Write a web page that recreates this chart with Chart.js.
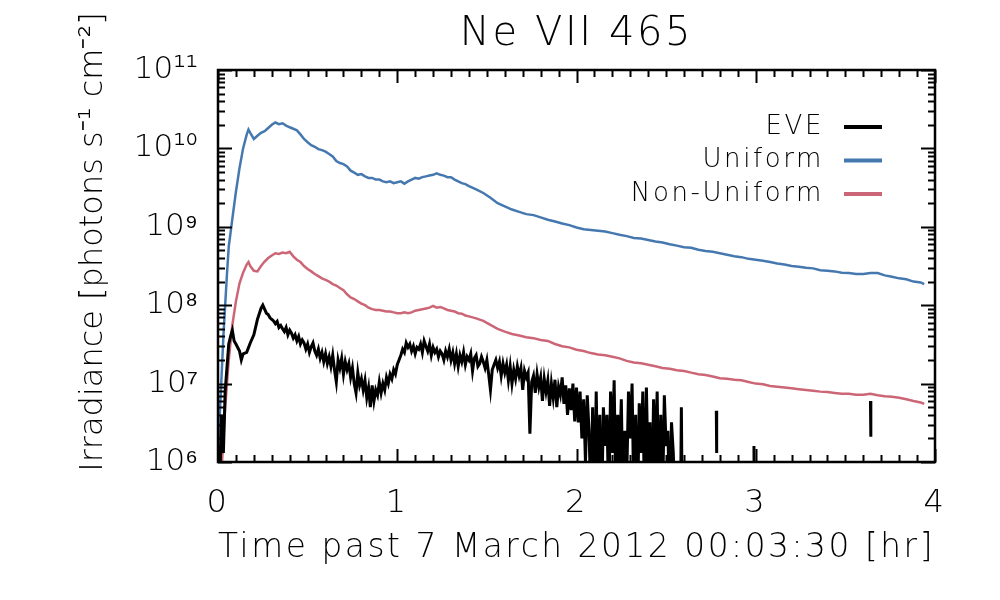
<!DOCTYPE html>
<html>
<head>
<meta charset="utf-8">
<script src="https://cdn.jsdelivr.net/npm/chart.js@4.4.1/dist/chart.umd.min.js"></script>
<style>
  html, body { margin: 0; padding: 0; background: #fff; }
  #wrap { width: 1000px; height: 600px; }
</style>
</head>
<body>
<div id="wrap"><canvas id="irrChart" width="1000" height="600"></canvas></div>
<script>
// time axis [hr] of the two model curves
const modelTime = [
  0, 0.01, 0.02, 0.03, 0.04, 0.05, 0.06, 0.08, 0.10,
  0.12, 0.14, 0.16, 0.17, 0.18, 0.20, 0.22, 0.24, 0.26, 0.28, 0.30,
  0.32, 0.34, 0.36, 0.38, 0.40, 0.42, 0.44, 0.46, 0.48, 0.50,
  0.52, 0.54, 0.56, 0.58, 0.60, 0.62, 0.64, 0.66, 0.68, 0.70,
  0.72, 0.74, 0.76, 0.78, 0.80, 0.82, 0.84, 0.86, 0.88, 0.90,
  0.92, 0.94, 0.96, 0.98, 1.00, 1.02, 1.04, 1.06, 1.08, 1.10,
  1.12, 1.14, 1.16, 1.18, 1.20, 1.22, 1.24, 1.26, 1.28, 1.30,
  1.32, 1.34, 1.36, 1.38, 1.40,
  1.44, 1.48, 1.52, 1.56, 1.60, 1.64, 1.68, 1.72, 1.76, 1.80,
  1.84, 1.88, 1.92, 1.96, 2.00, 2.04, 2.08, 2.12, 2.16, 2.20,
  2.24, 2.28, 2.32, 2.36, 2.40, 2.44, 2.48, 2.52, 2.56, 2.60,
  2.64, 2.68, 2.72, 2.76, 2.80, 2.84, 2.88, 2.92, 2.96, 3.00,
  3.04, 3.08, 3.12, 3.16, 3.20, 3.24, 3.28, 3.32, 3.36, 3.40,
  3.44, 3.48, 3.52, 3.56, 3.60, 3.64, 3.68, 3.72, 3.76, 3.80,
  3.84, 3.88, 3.92, 3.94,
];

// Uniform model [photons s^-1 cm^-2]
const uniformValues = [
  7.9e5, 4.0e6, 1.26e7, 4.0e7, 1.0e8, 2.5e8, 5.6e8, 1.26e9, 2.8e9,
  5.6e9, 1.0e10, 1.5e10, 1.74e10, 1.58e10, 1.32e10, 1.45e10, 1.58e10, 1.66e10, 1.82e10, 2.0e10,
  2.14e10, 2.04e10, 2.09e10, 1.95e10, 1.86e10, 1.78e10, 1.7e10, 1.51e10, 1.32e10, 1.2e10,
  1.1e10, 1.05e10, 9.8e9, 9.5e9, 9.1e9, 8.5e9, 7.9e9, 6.9e9, 6.5e9, 6.3e9,
  5.9e9, 5.2e9, 4.9e9, 4.6e9, 4.7e9, 4.4e9, 4.2e9, 4.2e9, 4.0e9, 4.0e9,
  3.8e9, 3.7e9, 3.8e9, 3.6e9, 3.7e9, 3.8e9, 3.55e9, 3.8e9, 4.0e9, 4.2e9,
  4.1e9, 4.3e9, 4.4e9, 4.5e9, 4.6e9, 4.8e9, 4.6e9, 4.5e9, 4.3e9, 4.3e9,
  4.0e9, 3.8e9, 3.6e9, 3.5e9, 3.3e9,
  3.0e9, 2.7e9, 2.35e9, 2.0e9, 1.82e9, 1.66e9, 1.55e9, 1.45e9, 1.41e9, 1.32e9,
  1.23e9, 1.17e9, 1.1e9, 1.05e9, 9.8e8, 9.3e8, 9.1e8, 8.9e8, 8.7e8, 8.3e8,
  7.9e8, 7.6e8, 7.2e8, 7.1e8, 6.8e8, 6.5e8, 6.3e8, 6.0e8, 5.75e8, 5.5e8,
  5.4e8, 5.1e8, 4.9e8, 4.8e8, 4.6e8, 4.4e8, 4.2e8, 4.1e8, 3.9e8, 3.8e8,
  3.7e8, 3.55e8, 3.4e8, 3.3e8, 3.16e8, 3.1e8, 3.0e8, 2.95e8, 2.8e8, 2.75e8,
  2.7e8, 2.6e8, 2.57e8, 2.5e8, 2.5e8, 2.57e8, 2.57e8, 2.4e8, 2.3e8, 2.2e8,
  2.14e8, 2.0e8, 1.95e8, 1.86e8,
];

// Non-Uniform model
const nonUniformValues = [
  3.2e5, 4.0e5, 7.9e5, 2.0e6, 5.0e6, 1.0e7, 2.0e7, 5.6e7, 1.12e8,
  1.9e8, 2.6e8, 3.3e8, 3.55e8, 3.16e8, 2.75e8, 2.7e8, 3.16e8, 3.6e8, 4.0e8, 4.3e8,
  4.6e8, 4.5e8, 4.7e8, 4.6e8, 4.8e8, 4.2e8, 3.8e8, 3.55e8, 3.16e8, 2.9e8,
  2.7e8, 2.5e8, 2.35e8, 2.2e8, 2.1e8, 2.0e8, 1.86e8, 1.78e8, 1.66e8, 1.55e8,
  1.38e8, 1.26e8, 1.2e8, 1.12e8, 1.05e8, 1.0e8, 9.3e7, 8.9e7, 8.7e7, 8.7e7,
  8.5e7, 8.3e7, 8.3e7, 8.1e7, 7.9e7, 7.9e7, 8.1e7, 7.9e7, 8.1e7, 8.5e7,
  8.7e7, 8.9e7, 9.1e7, 9.3e7, 9.8e7, 9.3e7, 9.5e7, 9.1e7, 8.7e7, 8.5e7,
  8.3e7, 7.9e7, 7.8e7, 7.4e7, 7.2e7,
  6.8e7, 6.3e7, 5.6e7, 5.0e7, 4.6e7, 4.3e7, 4.1e7, 3.9e7, 3.8e7, 3.6e7,
  3.5e7, 3.2e7, 3.0e7, 2.9e7, 2.7e7, 2.6e7, 2.45e7, 2.35e7, 2.3e7, 2.2e7,
  2.1e7, 1.95e7, 1.86e7, 1.82e7, 1.74e7, 1.66e7, 1.58e7, 1.55e7, 1.48e7, 1.45e7,
  1.38e7, 1.32e7, 1.29e7, 1.23e7, 1.17e7, 1.15e7, 1.12e7, 1.1e7, 1.05e7, 1.0e7,
  9.8e6, 9.3e6, 9.1e6, 8.9e6, 8.7e6, 8.5e6, 8.3e6, 8.1e6, 7.9e6, 7.8e6,
  7.6e6, 7.4e6, 7.4e6, 7.2e6, 7.2e6, 7.4e6, 7.1e6, 6.9e6, 6.8e6, 6.6e6,
  6.3e6, 6.0e6, 5.75e6, 5.5e6,
];

// EVE measurement (null = no valid data)
const eveTime = [
  0, 0.01, 0.02, 0.03, 0.04, 0.05, 0.06, 0.07, 0.08, 0.09, 0.10,
  0.12, 0.13, 0.14, 0.16, 0.18, 0.20, 0.22, 0.24, 0.25,
  0.26, 0.27, 0.28, 0.29, 0.30, 0.31, 0.32, 0.33, 0.34, 0.35,
  0.36, 0.37, 0.38, 0.39, 0.40, 0.41, 0.42, 0.43, 0.44, 0.45,
  0.46, 0.47, 0.48, 0.49, 0.50, 0.51, 0.52, 0.53, 0.54, 0.55,
  0.56, 0.57, 0.58, 0.59, 0.60, 0.61, 0.62, 0.63, 0.64, 0.65,
  0.66, 0.67, 0.68, 0.69, 0.70, 0.71, 0.72, 0.73, 0.74, 0.75,
  0.76, 0.77, 0.78, 0.79, 0.80, 0.81, 0.82, 0.83, 0.84, 0.85,
  0.86, 0.87, 0.88, 0.89, 0.90, 0.91, 0.92, 0.93, 0.94, 0.95,
  0.96, 0.97, 0.98, 0.99, 1.00, 1.01, 1.02, 1.03, 1.04, 1.05,
  1.06, 1.07, 1.08, 1.09, 1.10, 1.11, 1.12, 1.13, 1.14, 1.15,
  1.16, 1.17, 1.18, 1.19, 1.20, 1.21, 1.22, 1.23, 1.24, 1.25,
  1.26, 1.27, 1.28, 1.29, 1.30, 1.31, 1.32, 1.33, 1.34, 1.35,
  1.36, 1.37, 1.38, 1.39, 1.40, 1.41, 1.42, 1.43, 1.44, 1.45,
  1.46, 1.47, 1.48, 1.49, 1.50, 1.51, 1.52, 1.53, 1.54, 1.55,
  1.56, 1.57, 1.58, 1.59, 1.60, 1.61, 1.62, 1.63, 1.64, 1.65,
  1.66, 1.67, 1.68, 1.69, 1.70, 1.71, 1.72, 1.73, 1.74, 1.75,
  1.76, 1.77, 1.78, 1.79, 1.80, 1.81, 1.82, 1.83, 1.84, 1.85,
  1.86, 1.87, 1.88, 1.89, 1.90, 1.91, 1.92, 1.93, 1.94, 1.95,
  1.96, 1.97, 1.98, 1.99,
  2.00, 2.01, 2.02, 2.03, 2.04, 2.05, 2.06, 2.07, 2.08, 2.09,
  2.10, 2.11, 2.12, 2.13, 2.14, 2.15, 2.16, 2.17, 2.18, 2.19,
  2.20, 2.21, 2.22, 2.23, 2.24, 2.25, 2.26, 2.27, 2.28, 2.29,
  2.30, 2.31, 2.32, 2.33, 2.34, 2.35, 2.36, 2.37, 2.38, 2.39,
  2.40, 2.41, 2.42, 2.43, 2.44, 2.45, 2.46, 2.47, 2.48, 2.49,
  2.50, 2.51, 2.52, 2.53, 2.54, 2.55,
  2.56, 2.58, 2.585, 2.59, 2.60, 2.78, 2.782, 2.79, 2.99, 2.992, 3.00, 3.64, 3.642, 3.65,
];

const eveValues = [
  1.6e6, 6e5, 4.0e6, 1.3e6, 8e6, 1.6e7, 3.2e7, 4.0e7, 4.8e7, 3.5e7, 3.2e7,
  2.6e7, 2.0e7, 2.4e7, 2.5e7, 3.3e7, 4.2e7, 6.6e7, 9.1e7, 1.0e8,
  8.9e7, 7.9e7, 7.6e7, 6.9e7, 6.6e7, 6.3e7, 5.8e7, 6.2e7, 5.2e7, 5.5e7,
  5.0e7, 4.6e7, 5.2e7, 4.2e7, 4.8e7, 4.4e7, 3.8e7, 4.2e7, 3.5e7, 4.0e7,
  3.2e7, 3.6e7, 3.3e7, 2.75e7, 3.2e7, 2.5e7, 2.95e7, 3.3e7, 2.6e7, 2.3e7,
  2.75e7, 2.1e7, 2.5e7, 1.9e7, 2.4e7, 1.8e7, 2.2e7, 1.66e7, 2.3e7, 1.5e7,
  1.05e7, 2.0e7, 1.58e7, 2.1e7, 1.32e7, 1.9e7, 1.5e7, 1.8e7, 1.2e7, 1.58e7,
  1.0e7, 7.6e6, 1.38e7, 9.5e6, 1.15e7, 8.3e6, 1.1e7, 6.6e6, 8.9e6, 5.0e6,
  9.5e6, 6.0e6, 8.3e6, 7.1e6, 1.05e7, 7.6e6, 1.0e7, 8.3e6, 1.2e7, 1.0e7,
  1.32e7, 1.15e7, 1.5e7, 1.32e7, 1.74e7, 2.0e7, 2.3e7, 2.75e7, 2.5e7, 3.3e7,
  2.9e7, 3.2e7, 2.6e7, 3.0e7, 2.4e7, 2.9e7, 2.75e7, 3.2e7, 2.5e7, 3.5e7,
  3.0e7, 2.6e7, 3.2e7, 2.3e7, 2.9e7, 2.5e7, 2.75e7, 2.2e7, 2.6e7, 2.4e7,
  2.0e7, 2.6e7, 2.2e7, 2.75e7, 2.0e7, 2.5e7, 1.8e7, 2.4e7, 1.66e7, 2.3e7,
  1.9e7, 2.5e7, 1.74e7, 2.2e7, 2.0e7, 2.4e7, 1.45e7, 2.1e7, 2.3e7, 1.66e7,
  1.8e7, 2.2e7, 1.9e7, 1.58e7, 2.0e7, 1.32e7, 8.3e6, 1.5e7, 1.74e7, 2.0e7,
  1.58e7, 1.9e7, 1.26e7, 1.8e7, 1.38e7, 1.74e7, 1.1e7, 1.66e7, 1.0e7, 1.5e7,
  1.15e7, 1.66e7, 1.26e7, 1.58e7, 8.3e6, 1.45e7, 1.2e7, 1.38e7, 2.3e6, 1.05e7,
  1.26e7, 7.6e6, 1.32e7, 9.1e6, 1.2e7, 6.0e6, 1.15e7, 7.9e6, 1.1e7, 5.2e6,
  1.0e7, 6.6e6, 1.12e7, 5.0e6, 9.1e6, 7.2e6, 1.2e7, 5.5e6, 9.5e6, 4.0e6,
  8.7e6, 4.6e6, 1.0e7, 3.3e6,
  8.9e6, 3.2e6, 7.9e6, 2.0e6, 6.3e6, 1.0e6, 7.1e6, 2.5e6, 3e5, 5.0e6,
  2.5e5, 7.9e6, 4e5, 4.0e6, 2e5, 5.0e6, 1.6e6, 4.0e6, 2.5e5, 7.9e6,
  1.3e6, 1.1e7, 3e5, 4.0e6, 1.0e6, 6.3e6, 2.5e5, 2.5e6, 6e5, 7.9e6,
  2.0e6, 1.0e7, 3e5, 4.0e6, 2e5, 5.6e6, 1.3e6, 7.9e6, 2.5e5, 8.9e6,
  6e5, 3.2e6, 2.5e5, 6.3e6, 1.0e6, 7.9e6, 2e5, 4.0e6, 3e5, 7.1e6,
  1.6e6, 2.5e6, 2e5, 3.2e6, 1.3e6, 2e5,
  null, 2e5, 5.0e6, 2e5, null, 4.5e6, 1.3e6, null, 1.6e6, 3e5, null, 6.0e6, 2.1e6, null,
];

// axes
const xMajorTicks = [0, 1, 2, 3, 4];
const xMinorStep = 0.1;
const yMajorTicks = [1e6, 1e7, 1e8, 1e9, 1e10, 1e11];
const yTickLabels = ["10⁶", "10⁷", "10⁸", "10⁹", "10¹⁰", "10¹¹"];
const yMinorMantissas = [2, 3, 4, 5, 6, 7, 8, 9];

const seriesNames = ["EVE", "Uniform", "Non-Uniform"];
const seriesColors = ["#000000", "#4678b0", "#cc6676"];

const FONT = "'DejaVu Sans', sans-serif";
const WEIGHT = 200;

function toPoints(times, values) {
  return times.map((t, i) => ({ x: t, y: values[i] }));
}

// 글자 간격 (원본 폰트가 넓게 찍혀 있음), y 눈금 숫자는 제외
const spacingPlugin = {
  id: "spacing",
  afterUpdate(chart) {
    const ys = chart.scales.y;
    if (ys && !ys._plainLabels) {
      const orig = ys.drawLabels.bind(ys);
      ys.drawLabels = (area) => {
        const c = ys.ctx;
        const prev = c.letterSpacing;
        c.letterSpacing = "0px";
        orig(area);
        c.letterSpacing = prev;
      };
      ys._plainLabels = true;
    }
  },
  beforeDraw(chart) {
    chart.ctx.letterSpacing = "2.6px";
  },
};

// 안쪽으로 향하는 눈금 + 테두리
const framePlugin = {
  id: "frame",
  afterDatasetsDraw(chart) {
    const { ctx, chartArea: a, scales } = chart;
    const xs = scales.x, ys = scales.y;
    ctx.save();
    ctx.strokeStyle = "#000";
    ctx.lineWidth = 2;
    ctx.beginPath();
    const nMinor = Math.round((xMajorTicks[xMajorTicks.length - 1] - xMajorTicks[0]) / xMinorStep);
    for (let k = 0; k <= nMinor; k++) {
      const v = xMajorTicks[0] + k * xMinorStep;
      const len = k % 10 === 0 ? 13 : 7;
      const px = Math.round(xs.getPixelForValue(v)) + 0.5;
      ctx.moveTo(px, a.bottom); ctx.lineTo(px, a.bottom - len);
      ctx.moveTo(px, a.top); ctx.lineTo(px, a.top + len);
    }
    yMajorTicks.forEach((dec, i) => {
      const list = [{ v: dec, len: 14 }];
      if (i < yMajorTicks.length - 1) {
        yMinorMantissas.forEach((m) => list.push({ v: m * dec, len: 7 }));
      }
      list.forEach(({ v, len }) => {
        const py = Math.round(ys.getPixelForValue(v)) + 0.5;
        ctx.moveTo(a.left, py); ctx.lineTo(a.left + len, py);
        ctx.moveTo(a.right, py); ctx.lineTo(a.right - len, py);
      });
    });
    ctx.stroke();
    ctx.lineWidth = 2.5;
    ctx.strokeRect(a.left, a.top, a.right - a.left, a.bottom - a.top);
    ctx.restore();
  },
};

// 범례 (오른쪽 정렬 텍스트 + 선)
const legendPlugin = {
  id: "rightLegend",
  afterDraw(chart) {
    const { ctx } = chart;
    ctx.save();
    ctx.font = WEIGHT + " 26px " + FONT;
    ctx.textAlign = "right";
    ctx.textBaseline = "middle";
    chart.data.datasets.forEach((ds, i) => {
      const y = 127 + i * 33.5;
      ctx.fillStyle = "#000";
      ctx.fillText(ds.label, 824, y);
      ctx.strokeStyle = ds.borderColor;
      ctx.lineWidth = 4;
      ctx.beginPath();
      ctx.moveTo(844, y); ctx.lineTo(882, y);
      ctx.stroke();
    });
    ctx.restore();
  },
};

// y축 제목
const yTitlePlugin = {
  id: "yTitle",
  afterDraw(chart) {
    const { ctx } = chart;
    ctx.save();
    ctx.letterSpacing = "0px";
    ctx.translate(102, 242);
    ctx.rotate(-Math.PI / 2);
    ctx.font = WEIGHT + " 32px " + FONT;
    ctx.fillStyle = "#000";
    ctx.textAlign = "center";
    ctx.textBaseline = "alphabetic";
    ctx.fillText("Irradiance [photons s⁻¹ cm⁻²]", 0, 0);
    ctx.restore();
  },
};

const ctx = document.getElementById("irrChart").getContext("2d");
new Chart(ctx, {
  type: "line",
  data: {
    datasets: [
      { label: seriesNames[0], data: toPoints(eveTime, eveValues), borderColor: seriesColors[0], borderWidth: 3 },
      { label: seriesNames[1], data: toPoints(modelTime, uniformValues), borderColor: seriesColors[1], borderWidth: 2.5 },
      { label: seriesNames[2], data: toPoints(modelTime, nonUniformValues), borderColor: seriesColors[2], borderWidth: 2.5 },
    ],
  },
  options: {
    responsive: false,
    animation: false,
    devicePixelRatio: 1,
    spanGaps: false,
    elements: { point: { radius: 0 }, line: { tension: 0 } },
    layout: { padding: { left: 0, right: 65, top: 0, bottom: 0 } },
    plugins: {
      legend: { display: false },
      tooltip: { enabled: false },
      title: {
        display: true,
        text: "Ne VII 465",
        fullSize: false,
        color: "#000",
        font: { family: FONT, size: 40, weight: WEIGHT },
        padding: { top: 11, bottom: 11 },
      },
    },
    scales: {
      x: {
        type: "linear",
        min: 0,
        max: 4,
        afterFit: (s) => { s.height = 138; },
        afterBuildTicks: (s) => { s.ticks = xMajorTicks.map((v) => ({ value: v })); },
        ticks: { color: "#000", padding: 14, font: { family: FONT, size: 32, weight: WEIGHT } },
        grid: { display: false },
        border: { display: false },
        title: {
          display: true,
          text: "Time past 7 March 2012 00:03:30 [hr]",
          color: "#000",
          font: { family: FONT, size: 33, weight: WEIGHT },
          padding: { top: 0, bottom: 32 },
        },
      },
      y: {
        type: "logarithmic",
        min: 1e6,
        max: 1e11,
        afterFit: (s) => { s.width = 218; },
        afterBuildTicks: (s) => { s.ticks = yMajorTicks.map((v) => ({ value: v })); },
        ticks: {
          color: "#000",
          padding: 12,
          font: { family: FONT, size: 31, weight: WEIGHT },
          callback: (v, i) => yTickLabels[i],
        },
        grid: { display: false },
        border: { display: false },
      },
    },
  },
  plugins: [spacingPlugin, framePlugin, legendPlugin, yTitlePlugin],
});
</script>
</body>
</html>
